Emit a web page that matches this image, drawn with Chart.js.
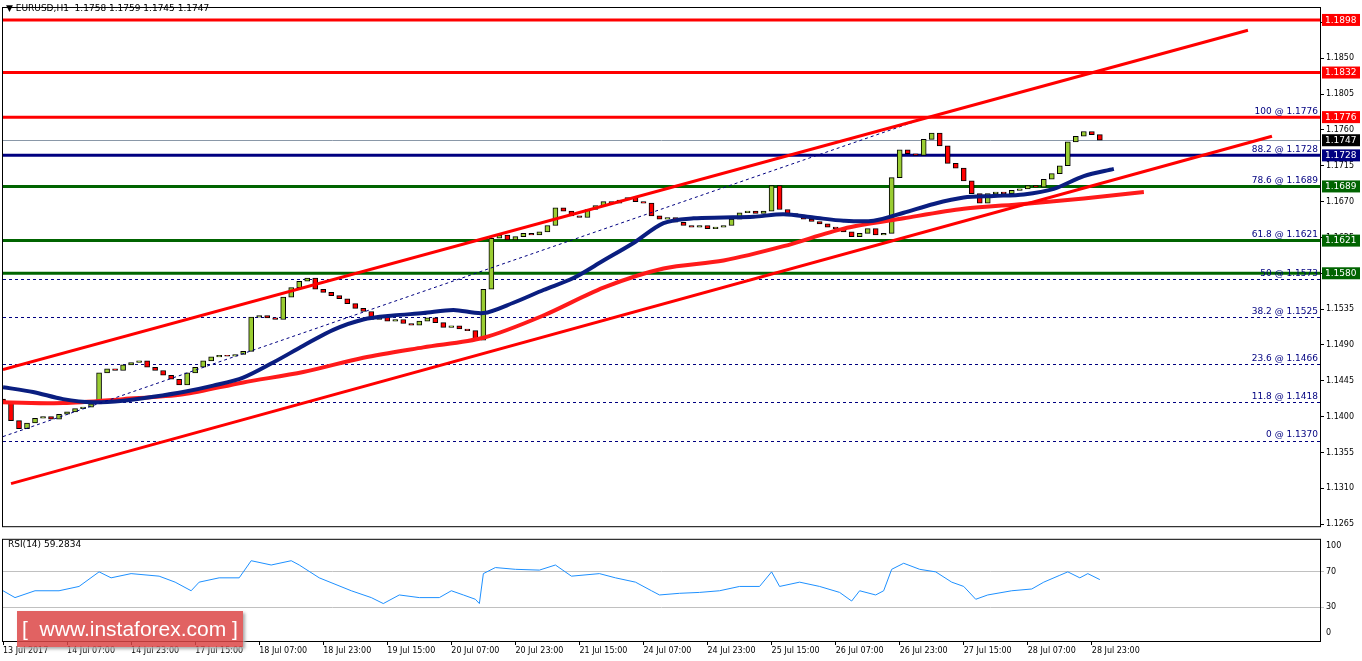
<!DOCTYPE html>
<html>
<head>
<meta charset="utf-8">
<script src="https://cdn.jsdelivr.net/npm/chart.js@4.4.1/dist/chart.umd.min.js"></script>
<style>
  body { margin: 0; background: #fff; font-family: "DejaVu Sans", sans-serif; }
  #wrap { position: relative; width: 1362px; height: 661px; }
  #main { position: absolute; left: 0; top: 0; }
  #rsi { position: absolute; left: 0; top: 533px; }
  #title { position: absolute; left: 6px; top: 3px; font-size: 9px; color: #000; }
  #rsiTitle { position: absolute; left: 8px; top: 539px; font-size: 9px; color: #000; }
  #logo { position: absolute; left: 17px; top: 611px; width: 226px; height: 36px; background: rgba(220,70,70,0.85);
    color: #fff; font: 21px "Liberation Sans", sans-serif; line-height: 36px; text-align: center; box-shadow: 2px 2px 3px #aaa; }
</style>
</head>
<body>
<div id="wrap">
  <canvas id="main" width="1362" height="533"></canvas>
  <canvas id="rsi" width="1362" height="128"></canvas>
  <div id="title">▼ EURUSD,H1&nbsp; 1.1758 1.1759 1.1745 1.1747</div>
  <div id="rsiTitle">RSI(14) 59.2834</div>
  <div id="logo">[&nbsp; www.instaforex.com ]</div>
</div>
<script>
// 2-hour candles, closes
const closes = [
	1.1418, 1.1395, 1.1385, 1.1392, 1.1398, 1.1400, 1.1397, 1.1403, 1.1406, 1.1410,
	1.1412, 1.1416, 1.1455, 1.1460, 1.1458, 1.1465, 1.1468, 1.1470, 1.1462, 1.1458,
	1.1452, 1.1447, 1.1440, 1.1455, 1.1462, 1.1470, 1.1475, 1.1477, 1.1476, 1.1478,
	1.1482, 1.1525, 1.1527, 1.1524, 1.1522, 1.1550, 1.1562, 1.1570, 1.1574, 1.1560,
	1.1556, 1.1552, 1.1548, 1.1542, 1.1536, 1.1532, 1.1522, 1.1526, 1.1520, 1.1522,
	1.1517, 1.1515, 1.1520, 1.1524, 1.1518, 1.1512, 1.1514, 1.1510, 1.1508, 1.1496,
	1.1560, 1.1624, 1.1628, 1.1622, 1.1626, 1.1630, 1.1628, 1.1632, 1.1640, 1.1662,
	1.1658, 1.1652, 1.1650, 1.1660, 1.1665, 1.1670, 1.1668, 1.1672, 1.1675, 1.1670,
	1.1668, 1.1652, 1.1648, 1.1650, 1.1644, 1.1640, 1.1638, 1.1640, 1.1636, 1.1638,
	1.1640, 1.1648, 1.1656, 1.1658, 1.1655, 1.1658, 1.1690, 1.1660, 1.1655, 1.1652,
	1.1648, 1.1645, 1.1642, 1.1638, 1.1636, 1.1632, 1.1626, 1.1630, 1.1636, 1.1628,
	1.1630, 1.1700, 1.1735, 1.1730, 1.1728, 1.1748, 1.1756, 1.1740, 1.1718, 1.1712,
	1.1696, 1.1680, 1.1668, 1.1680, 1.1682, 1.1680, 1.1684, 1.1686, 1.1690, 1.1688,
	1.1698, 1.1705, 1.1715, 1.1745, 1.1752, 1.1758, 1.1754, 1.1747
];
const firstOpen = 1.1422;

// moving averages, one point every 7.5 hours
const maBlue = [
	1.1437, 1.1431, 1.1422, 1.1418, 1.1420, 1.1425, 1.1431, 1.1439, 1.1449, 1.1468,
	1.1489, 1.1509, 1.1522, 1.1527, 1.1530, 1.1534, 1.1530, 1.1543, 1.1559, 1.1574,
	1.1596, 1.1618, 1.1643, 1.1649, 1.1650, 1.1651, 1.1654, 1.1650, 1.1646, 1.1646,
	1.1656, 1.1667, 1.1675, 1.1677, 1.1679, 1.1686, 1.1702, 1.1711
];
// one point every 15 hours
const maRed = [
	1.1418, 1.1417, 1.1422, 1.1428, 1.1443, 1.1456, 1.1474, 1.1487, 1.1499, 1.1527,
	1.1562, 1.1586, 1.1596, 1.1614, 1.1636, 1.1649, 1.1661, 1.1667, 1.1674, 1.1682
];

const rsiHours = [
	0, 3, 8, 14, 19, 24, 27, 32, 39, 43, 47, 49, 54, 59, 62, 67, 72, 74, 79, 87,
	92, 95, 99, 104, 109, 112, 115, 118, 119, 120, 123, 128, 134, 138, 142, 149, 153, 158, 162, 164,
	169, 174, 179, 184, 189, 192, 194, 199, 204, 209, 212, 214, 218, 220, 222, 225, 229, 233, 237, 240,
	243, 246, 252, 257, 260, 264, 266, 269, 271, 274
];
const rsiValues = [
	48.5, 40.7, 48.5, 48.5, 53.4, 70, 63.2, 68, 65.1, 58.3, 48.5, 58.3, 63.2, 63.2, 82.7, 77.8, 82.7, 77.8, 63.2, 48.5,
	40.7, 33.9, 43.7, 40.7, 40.7, 48.5, 43.7, 38.8, 33.9, 68, 74.9, 72.9, 72, 77.8, 65.1, 68, 63.2, 58.3, 48.5, 43.7,
	45.6, 46.6, 48.5, 53.4, 53.4, 70, 53.4, 58.3, 53.4, 46.6, 36.8, 48.5, 43.7, 48.5, 72.9, 79.8, 72.9, 70, 58.3, 53.4,
	38.8, 43.7, 48.5, 50.5, 58.3, 66.1, 70, 63.2, 68, 61.2
];

const tickLabels = [
	"13 Jul 2017", "14 Jul 07:00", "14 Jul 23:00", "17 Jul 15:00", "18 Jul 07:00", "18 Jul 23:00",
	"19 Jul 15:00", "20 Jul 07:00", "20 Jul 23:00", "21 Jul 15:00", "24 Jul 07:00", "24 Jul 23:00",
	"25 Jul 15:00", "26 Jul 07:00", "26 Jul 23:00", "27 Jul 15:00", "28 Jul 07:00", "28 Jul 23:00"
];
const priceTicks = [1.1265, 1.1310, 1.1355, 1.1400, 1.1445, 1.1490, 1.1535, 1.1580, 1.1625, 1.1670, 1.1715, 1.1760, 1.1805, 1.1850, 1.1895];

// horizontal levels
const levels = [
	{ v: 1.1898, c: "#ff0000", w: 3 },
	{ v: 1.1832, c: "#ff0000", w: 3 },
	{ v: 1.1776, c: "#ff0000", w: 3 },
	{ v: 1.1728, c: "#000080", w: 3 },
	{ v: 1.1689, c: "#006400", w: 3 },
	{ v: 1.1621, c: "#006400", w: 3 },
	{ v: 1.1580, c: "#006400", w: 3 },
];
const fibLevels = [
	{ v: 1.1776, t: "100 @ 1.1776" },
	{ v: 1.1728, t: "88.2 @ 1.1728" },
	{ v: 1.1689, t: "78.6 @ 1.1689" },
	{ v: 1.1621, t: "61.8 @ 1.1621" },
	{ v: 1.1573, t: "50 @ 1.1573", dash: true },
	{ v: 1.1525, t: "38.2 @ 1.1525", dash: true },
	{ v: 1.1466, t: "23.6 @ 1.1466", dash: true },
	{ v: 1.1418, t: "11.8 @ 1.1418", dash: true },
	{ v: 1.1370, t: "0 @ 1.1370", dash: true },
];
const lastPrice = 1.1747;

// trend channel end points [hour, price]
const upperChannel = [[0, 1.1459], [311, 1.1885]];
const lowerChannel = [[2, 1.1316], [317, 1.1752]];
const fibLine = [[0, 1.1375], [231, 1.1776]];

const FONT = { family: "DejaVu Sans", size: 8 };

let candles = closes.map((c, i) => {
	let o = i == 0 ? firstOpen : closes[i - 1];
	return { x: i * 2, y: [o, c], up: c >= o };
});

const levelsPlugin = {
	id: "levels",
	beforeDatasetsDraw(chart) {
		const { ctx, chartArea: a, scales: { y } } = chart;
		ctx.save();
		fibLevels.filter((f) => f.dash).forEach((f) => {
			let py = Math.round(y.getPixelForValue(f.v)) + 0.5;
			ctx.strokeStyle = "#000080";
			ctx.lineWidth = 1;
			ctx.setLineDash([3, 3]);
			ctx.beginPath(); ctx.moveTo(a.left, py); ctx.lineTo(a.right, py); ctx.stroke();
		});
		ctx.setLineDash([]);
		let py = Math.round(y.getPixelForValue(lastPrice)) + 0.5;
		ctx.strokeStyle = "#8a98a8";
		ctx.beginPath(); ctx.moveTo(a.left, py); ctx.lineTo(a.right, py); ctx.stroke();
		levels.forEach((l) => {
			let p = y.getPixelForValue(l.v);
			ctx.strokeStyle = l.c;
			ctx.lineWidth = l.w;
			ctx.beginPath(); ctx.moveTo(a.left, p); ctx.lineTo(a.right, p); ctx.stroke();
		});
		ctx.font = "9px DejaVu Sans";
		ctx.fillStyle = "#000080";
		ctx.textAlign = "right";
		ctx.textBaseline = "bottom";
		fibLevels.forEach((f) => {
			ctx.fillText(f.t, a.right - 2, y.getPixelForValue(f.v) - 1);
		});
		ctx.restore();
	},
	afterDraw(chart) {
		const { ctx, chartArea: a, scales: { y } } = chart;
		ctx.save();
		ctx.strokeStyle = "#000";
		ctx.lineWidth = 1;
		ctx.strokeRect(a.left - 0.5, a.top - 0.5, a.right - a.left + 1, a.bottom - a.top + 1);
		ctx.font = "9px DejaVu Sans";
		ctx.textAlign = "left";
		ctx.textBaseline = "middle";
		let boxes = levels.map((l) => ({ v: l.v, c: l.c })).concat([{ v: lastPrice, c: "#000" }]);
		boxes.forEach((b) => {
			let p = y.getPixelForValue(b.v);
			ctx.fillStyle = b.c;
			ctx.fillRect(a.right + 2, p - 6, 38, 12);
			ctx.fillStyle = "#fff";
			ctx.fillText(b.v.toFixed(4), a.right + 5, p + 0.5);
		});
		ctx.restore();
	},
};

const seg = (pts, color, width, dash) => ({
	type: "line",
	data: pts.map((p) => ({ x: p[0], y: p[1] })),
	borderColor: color,
	borderWidth: width,
	borderDash: dash || [],
	pointRadius: 0,
	order: 0,
});

new Chart(document.getElementById("main"), {
	type: "bar",
	data: {
		datasets: [
			{
				data: candles,
				backgroundColor: (c) => (c.raw && c.raw.up ? "#9acd32" : "#ff0000"),
				borderColor: "#000",
				borderWidth: 1,
				borderSkipped: false,
				barThickness: 5,
				order: 2,
			},
			{
				type: "line",
				data: maBlue.map((v, i) => ({ x: i * 7.5, y: v })),
				borderColor: "#0a1e80",
				borderWidth: 4,
				pointRadius: 0,
				tension: 0.3,
				order: 1,
			},
			{
				type: "line",
				data: maRed.map((v, i) => ({ x: i * 15, y: v })),
				borderColor: "#ff1a1a",
				borderWidth: 4,
				pointRadius: 0,
				tension: 0.3,
				order: 1,
			},
			seg(upperChannel, "#ff0000", 3),
			seg(lowerChannel, "#ff0000", 3),
			seg(fibLine, "#000080", 1, [3, 3]),
		],
	},
	options: {
		animation: false,
		responsive: false,
		layout: { padding: { left: 3, top: 8, bottom: 3 } },
		plugins: { legend: { display: false }, tooltip: { enabled: false } },
		scales: {
			x: { type: "linear", min: 0, max: 329, offset: false, display: false },
			y: {
				position: "right",
				min: 1.12625,
				max: 1.1913,
				afterBuildTicks: (s) => { s.ticks = priceTicks.map((v) => ({ value: v })); },
				afterFit: (s) => { s.width = 42; },
				grid: { drawOnChartArea: false, tickLength: 4, color: "#000" },
				border: { color: "#000" },
				ticks: { font: FONT, color: "#000", padding: 2, callback: (v) => v.toFixed(4) },
			},
		},
	},
	plugins: [levelsPlugin],
});

const rsiFrame = {
	id: "rsiFrame",
	afterDraw(chart) {
		const { ctx, chartArea: a } = chart;
		ctx.save();
		ctx.strokeStyle = "#000";
		ctx.strokeRect(a.left - 0.5, a.top - 0.5, a.right - a.left + 1, a.bottom - a.top + 1);
		ctx.restore();
	},
};

new Chart(document.getElementById("rsi"), {
	type: "line",
	data: {
		datasets: [{
			data: rsiHours.map((h, i) => ({ x: h, y: rsiValues[i] })),
			borderColor: "#1e90ff",
			borderWidth: 1,
			pointRadius: 0,
		}],
	},
	options: {
		animation: false,
		responsive: false,
		layout: { padding: { left: 3, top: 2 } },
		plugins: { legend: { display: false }, tooltip: { enabled: false } },
		scales: {
			x: {
				type: "linear",
				min: 0,
				max: 329,
				afterBuildTicks: (s) => { s.ticks = tickLabels.map((t, i) => ({ value: i * 16 })); },
				afterFit: (s) => { s.height = 20; },
				grid: { drawOnChartArea: false, tickLength: 4, color: "#000" },
				ticks: {
					font: FONT, color: "#000", align: "start", maxRotation: 0, autoSkip: false, padding: 1,
					callback: (v) => tickLabels[Math.round(v / 16)],
				},
			},
			y: {
				position: "right",
				min: -8.7,
				max: 106.5,
				afterBuildTicks: (s) => { s.ticks = [0, 30, 70, 100].map((v) => ({ value: v })); },
				afterFit: (s) => { s.width = 42; },
				grid: {
					tickLength: 4,
					color: (c) => (c.tick.value == 30 || c.tick.value == 70 ? "#c0c0c0" : "rgba(0,0,0,0)"),
				},
				border: { color: "#000", dash: [] },
				ticks: { font: FONT, color: "#000", padding: 2 },
			},
		},
	},
	plugins: [rsiFrame],
});
</script>
</body>
</html>
